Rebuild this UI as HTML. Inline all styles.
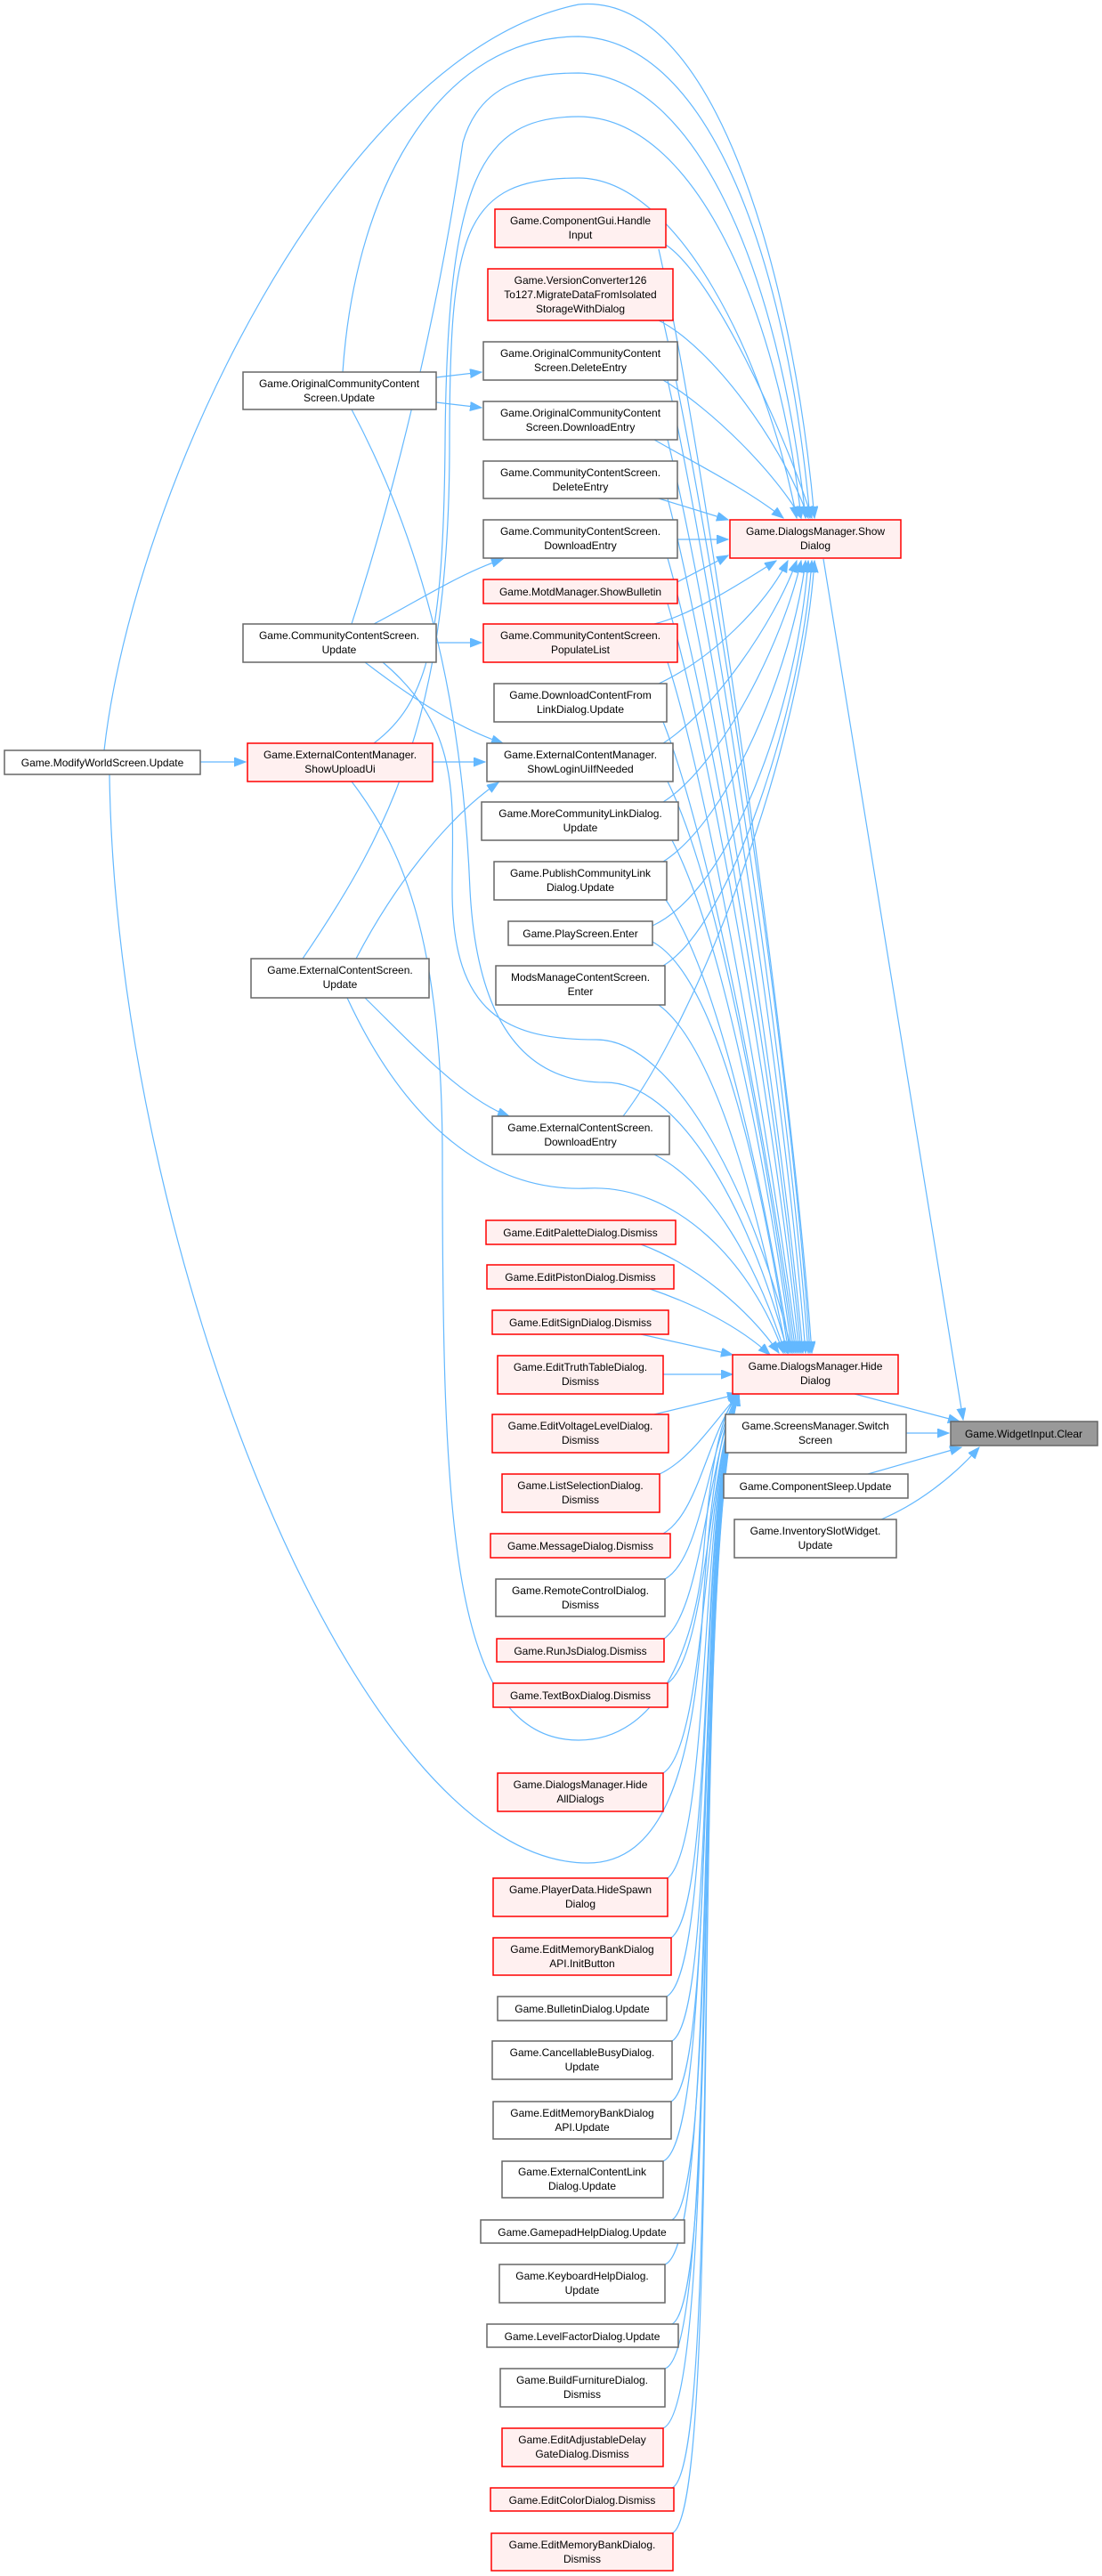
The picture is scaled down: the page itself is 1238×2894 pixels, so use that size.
<!DOCTYPE html>
<html><head><meta charset="utf-8"><style>
html,body{margin:0;padding:0;background:#fff;}
svg{display:block;}
text{font-family:"Liberation Sans",Arial,sans-serif;font-size:12px;fill:#000;text-anchor:middle;}
.e{fill:none;stroke:#63b8ff;stroke-width:1.2;marker-end:url(#a);}
.w{fill:#fff;stroke:#666;stroke-width:1.5;}
.r{fill:#fff0f0;stroke:#ff0000;stroke-width:1.5;}
.g{fill:#999;stroke:#666;stroke-width:1.5;}
</style></head><body>
<svg width="1238" height="2894" viewBox="0 0 1238 2894" xmlns="http://www.w3.org/2000/svg">
<defs><marker id="a" markerUnits="userSpaceOnUse" markerWidth="14" markerHeight="12" refX="13" refY="5" orient="auto"><path d="M0,0 L13,5 L0,10 Z" fill="#63b8ff" stroke="#63b8ff"/></marker></defs>

<path class="e" d="M225,856 L276,856"/>
<path class="e" d="M490,424 L541,418"/>
<path class="e" d="M490,452 L541,458"/>
<path class="e" d="M420,701 C470,675 515,645 565,628"/>
<path class="e" d="M490,722 L541,722"/>
<path class="e" d="M410,744 C470,790 520,820 565,835"/>
<path class="e" d="M486,856 L545,856"/>
<path class="e" d="M400,1077 C440,1000 500,920 560,879"/>
<path class="e" d="M410,1121 C460,1170 520,1235 572,1254"/>

<path class="e" d="M117,843 C150,550 380,60 650,5 C800,-10 890,300 915,582"/>
<path class="e" d="M385,418 C400,200 500,41 650,41 C800,45 885,300 910,582"/>
<path class="e" d="M395,701 C460,500 500,300 520,160 C540,90 600,82 650,82 C780,85 875,300 905,582"/>
<path class="e" d="M420,835 C480,790 498,720 500,500 C502,200 540,131 650,131 C780,131 875,350 900,582"/>
<path class="e" d="M340,1077 C440,930 505,800 505,500 C505,260 520,200 650,200 C760,200 860,400 895,582"/>

<path class="e" d="M395,460 C480,620 520,800 528,1000 C536,1150 590,1216 680,1216 C760,1216 840,1350 885,1520"/>
<path class="e" d="M430,744 C520,820 508,900 508,1000 C508,1140 570,1168 670,1168 C760,1168 850,1350 890,1520"/>
<path class="e" d="M395,878 C450,950 497,1050 497,1300 C497,1700 505,1955 650,1955 C740,1955 780,1850 790,1750 C800,1620 815,1580 830,1566"/>
<path class="e" d="M390,1121 C450,1250 540,1340 660,1335 C760,1330 845,1420 880,1520"/>
<path class="e" d="M123,870 C130,1400 400,2093 660,2093 C740,2093 780,2000 790,1800 C800,1650 815,1585 830,1566"/>

<path class="e" d="M748,275 C800,310 880,480 912,582"/>
<path class="e" d="M740,360 C800,390 880,500 908,582"/>
<path class="e" d="M745,427 C800,460 870,530 900,582"/>
<path class="e" d="M735,494 C780,520 840,550 880,582"/>
<path class="e" d="M740,560 L818,584"/>
<path class="e" d="M761,606 L818,606"/>
<path class="e" d="M715,678 L818,624"/>
<path class="e" d="M735,701 C780,690 840,650 872,630"/>
<path class="e" d="M740,768 C800,740 860,680 885,630"/>
<path class="e" d="M745,835 C800,800 870,700 895,630"/>
<path class="e" d="M745,901 C810,860 880,720 900,630"/>
<path class="e" d="M745,968 C820,920 890,750 905,630"/>
<path class="e" d="M733,1040 C820,1000 895,800 908,630"/>
<path class="e" d="M745,1085 C820,1040 900,800 912,630"/>
<path class="e" d="M700,1254 C780,1150 900,850 915,630"/>

<path class="e" d="M740,280 C790,500 890,1200 912,1520"/>
<path class="e" d="M745,360 C800,600 890,1200 910,1520"/>
<path class="e" d="M750,427 C800,650 885,1200 908,1520"/>
<path class="e" d="M750,494 C800,700 880,1200 905,1520"/>
<path class="e" d="M750,560 C800,750 878,1250 902,1520"/>
<path class="e" d="M750,627 C800,800 875,1250 900,1520"/>
<path class="e" d="M750,678 C800,850 870,1250 898,1520"/>
<path class="e" d="M750,744 C800,900 868,1300 896,1520"/>
<path class="e" d="M745,811 C800,950 865,1300 894,1520"/>
<path class="e" d="M750,878 C810,1000 862,1300 892,1520"/>
<path class="e" d="M755,944 C810,1050 860,1300 890,1520"/>
<path class="e" d="M748,1011 C810,1100 860,1350 888,1520"/>
<path class="e" d="M733,1058 C810,1100 860,1350 886,1520"/>
<path class="e" d="M740,1129 C810,1180 860,1400 884,1520"/>
<path class="e" d="M735,1297 C800,1330 850,1420 882,1520"/>
<path class="e" d="M720,1398 C780,1420 840,1470 875,1520"/>
<path class="e" d="M730,1448 C780,1465 830,1490 865,1522"/>
<path class="e" d="M720,1499 L823,1522"/>
<path class="e" d="M745,1544 L823,1544"/>
<path class="e" d="M735,1589 L830,1566"/>
<path class="e" d="M741,1656 C775,1640 800,1600 830,1566"/>
<path class="e" d="M745,1723 C785,1700 795,1610 830,1566"/>
<path class="e" d="M747,1774 C790,1750 795,1620 830,1566"/>
<path class="e" d="M746,1841 C790,1810 795,1630 830,1566"/>
<path class="e" d="M750,1891 C795,1860 795,1640 830,1566"/>
<path class="e" d="M745,1992 C795,1960 790,1650 830,1566"/>
<path class="e" d="M750,2110 C800,2070 785,1660 830,1566"/>
<path class="e" d="M754,2177 C805,2140 783,1670 830,1566"/>
<path class="e" d="M749,2243 C805,2210 782,1680 830,1566"/>
<path class="e" d="M755,2293 C808,2260 781,1690 830,1566"/>
<path class="e" d="M754,2361 C808,2330 780,1700 830,1566"/>
<path class="e" d="M745,2428 C808,2400 779,1710 830,1566"/>
<path class="e" d="M755,2494 C810,2460 778,1720 830,1566"/>
<path class="e" d="M747,2544 C810,2520 777,1730 830,1566"/>
<path class="e" d="M755,2611 C812,2580 776,1740 830,1566"/>
<path class="e" d="M747,2661 C812,2640 775,1750 830,1566"/>
<path class="e" d="M745,2728 C812,2700 774,1760 830,1566"/>
<path class="e" d="M755,2795 C814,2770 773,1770 830,1566"/>
<path class="e" d="M755,2846 C815,2820 772,1780 830,1566"/>

<path class="e" d="M960,1566 L1078,1597"/>
<path class="e" d="M925,628 L1082,1595"/>
<path class="e" d="M1018,1610 L1066,1610"/>
<path class="e" d="M975,1656 L1080,1626"/>
<path class="e" d="M990,1707 C1030,1690 1070,1660 1100,1626"/>

<rect class="w" x="5" y="843" width="220" height="27"/><text x="115" y="861">Game.ModifyWorldScreen.Update</text>
<rect class="w" x="273" y="418" width="217" height="42"/><text x="381" y="435">Game.OriginalCommunityContent</text><text x="381" y="451">Screen.Update</text>
<rect class="w" x="273" y="701" width="217" height="43"/><text x="381" y="718">Game.CommunityContentScreen.</text><text x="381" y="734">Update</text>
<rect class="r" x="278" y="835" width="208" height="43"/><text x="382" y="852">Game.ExternalContentManager.</text><text x="382" y="868">ShowUploadUi</text>
<rect class="w" x="282" y="1077" width="200" height="44"/><text x="382" y="1094">Game.ExternalContentScreen.</text><text x="382" y="1110">Update</text>

<rect class="r" x="556" y="235" width="192" height="43"/><text x="652" y="252">Game.ComponentGui.Handle</text><text x="652" y="268">Input</text>
<rect class="r" x="548" y="302" width="208" height="58"/><text x="652" y="319">Game.VersionConverter126</text><text x="652" y="335">To127.MigrateDataFromIsolated</text><text x="652" y="351">StorageWithDialog</text>
<rect class="w" x="543" y="384" width="218" height="43"/><text x="652" y="401">Game.OriginalCommunityContent</text><text x="652" y="417">Screen.DeleteEntry</text>
<rect class="w" x="543" y="451" width="218" height="43"/><text x="652" y="468">Game.OriginalCommunityContent</text><text x="652" y="484">Screen.DownloadEntry</text>
<rect class="w" x="543" y="518" width="218" height="42"/><text x="652" y="535">Game.CommunityContentScreen.</text><text x="652" y="551">DeleteEntry</text>
<rect class="w" x="543" y="584" width="218" height="43"/><text x="652" y="601">Game.CommunityContentScreen.</text><text x="652" y="617">DownloadEntry</text>
<rect class="r" x="543" y="651" width="218" height="27"/><text x="652" y="669">Game.MotdManager.ShowBulletin</text>
<rect class="r" x="543" y="701" width="218" height="43"/><text x="652" y="718">Game.CommunityContentScreen.</text><text x="652" y="734">PopulateList</text>
<rect class="w" x="555" y="768" width="194" height="43"/><text x="652" y="785">Game.DownloadContentFrom</text><text x="652" y="801">LinkDialog.Update</text>
<rect class="w" x="547" y="835" width="209" height="43"/><text x="652" y="852">Game.ExternalContentManager.</text><text x="652" y="868">ShowLoginUiIfNeeded</text>
<rect class="w" x="541" y="901" width="221" height="43"/><text x="652" y="918">Game.MoreCommunityLinkDialog.</text><text x="652" y="934">Update</text>
<rect class="w" x="555" y="968" width="194" height="43"/><text x="652" y="985">Game.PublishCommunityLink</text><text x="652" y="1001">Dialog.Update</text>
<rect class="w" x="571" y="1035" width="162" height="27"/><text x="652" y="1053">Game.PlayScreen.Enter</text>
<rect class="w" x="557" y="1085" width="190" height="44"/><text x="652" y="1102">ModsManageContentScreen.</text><text x="652" y="1118">Enter</text>
<rect class="w" x="553" y="1254" width="199" height="43"/><text x="652" y="1271">Game.ExternalContentScreen.</text><text x="652" y="1287">DownloadEntry</text>
<rect class="r" x="546" y="1371" width="213" height="27"/><text x="652" y="1389">Game.EditPaletteDialog.Dismiss</text>
<rect class="r" x="547" y="1421" width="210" height="27"/><text x="652" y="1439">Game.EditPistonDialog.Dismiss</text>
<rect class="r" x="553" y="1472" width="198" height="27"/><text x="652" y="1490">Game.EditSignDialog.Dismiss</text>
<rect class="r" x="559" y="1523" width="186" height="43"/><text x="652" y="1540">Game.EditTruthTableDialog.</text><text x="652" y="1556">Dismiss</text>
<rect class="r" x="553" y="1589" width="198" height="43"/><text x="652" y="1606">Game.EditVoltageLevelDialog.</text><text x="652" y="1622">Dismiss</text>
<rect class="r" x="564" y="1656" width="177" height="43"/><text x="652" y="1673">Game.ListSelectionDialog.</text><text x="652" y="1689">Dismiss</text>
<rect class="r" x="551" y="1723" width="202" height="27"/><text x="652" y="1741">Game.MessageDialog.Dismiss</text>
<rect class="w" x="557" y="1774" width="190" height="42"/><text x="652" y="1791">Game.RemoteControlDialog.</text><text x="652" y="1807">Dismiss</text>
<rect class="r" x="558" y="1841" width="188" height="26"/><text x="652" y="1859">Game.RunJsDialog.Dismiss</text>
<rect class="r" x="554" y="1891" width="196" height="27"/><text x="652" y="1909">Game.TextBoxDialog.Dismiss</text>
<rect class="r" x="559" y="1992" width="186" height="43"/><text x="652" y="2009">Game.DialogsManager.Hide</text><text x="652" y="2025">AllDialogs</text>
<rect class="r" x="554" y="2110" width="196" height="43"/><text x="652" y="2127">Game.PlayerData.HideSpawn</text><text x="652" y="2143">Dialog</text>
<rect class="r" x="554" y="2177" width="200" height="42"/><text x="654" y="2194">Game.EditMemoryBankDialog</text><text x="654" y="2210">API.InitButton</text>
<rect class="w" x="559" y="2243" width="190" height="27"/><text x="654" y="2261">Game.BulletinDialog.Update</text>
<rect class="w" x="553" y="2293" width="202" height="43"/><text x="654" y="2310">Game.CancellableBusyDialog.</text><text x="654" y="2326">Update</text>
<rect class="w" x="554" y="2361" width="200" height="42"/><text x="654" y="2378">Game.EditMemoryBankDialog</text><text x="654" y="2394">API.Update</text>
<rect class="w" x="564" y="2428" width="181" height="41"/><text x="654" y="2444">Game.ExternalContentLink</text><text x="654" y="2460">Dialog.Update</text>
<rect class="w" x="540" y="2494" width="229" height="26"/><text x="654" y="2512">Game.GamepadHelpDialog.Update</text>
<rect class="w" x="561" y="2544" width="186" height="43"/><text x="654" y="2561">Game.KeyboardHelpDialog.</text><text x="654" y="2577">Update</text>
<rect class="w" x="547" y="2611" width="215" height="26"/><text x="654" y="2629">Game.LevelFactorDialog.Update</text>
<rect class="w" x="562" y="2661" width="185" height="43"/><text x="654" y="2678">Game.BuildFurnitureDialog.</text><text x="654" y="2694">Dismiss</text>
<rect class="r" x="564" y="2728" width="181" height="43"/><text x="654" y="2745">Game.EditAdjustableDelay</text><text x="654" y="2761">GateDialog.Dismiss</text>
<rect class="r" x="551" y="2795" width="206" height="26"/><text x="654" y="2813">Game.EditColorDialog.Dismiss</text>
<rect class="r" x="552" y="2846" width="204" height="42"/><text x="654" y="2863">Game.EditMemoryBankDialog.</text><text x="654" y="2879">Dismiss</text>

<rect class="r" x="820" y="584" width="192" height="43"/><text x="916" y="601">Game.DialogsManager.Show</text><text x="916" y="617">Dialog</text>
<rect class="r" x="823" y="1522" width="186" height="44"/><text x="916" y="1539">Game.DialogsManager.Hide</text><text x="916" y="1555">Dialog</text>
<rect class="w" x="815" y="1589" width="203" height="43"/><text x="916" y="1606">Game.ScreensManager.Switch</text><text x="916" y="1622">Screen</text>
<rect class="w" x="813" y="1656" width="207" height="27"/><text x="916" y="1674">Game.ComponentSleep.Update</text>
<rect class="w" x="825" y="1707" width="182" height="43"/><text x="916" y="1724">Game.InventorySlotWidget.</text><text x="916" y="1740">Update</text>
<rect class="g" x="1068" y="1597" width="165" height="27"/><text x="1150" y="1615">Game.WidgetInput.Clear</text>
</svg>
</body></html>
